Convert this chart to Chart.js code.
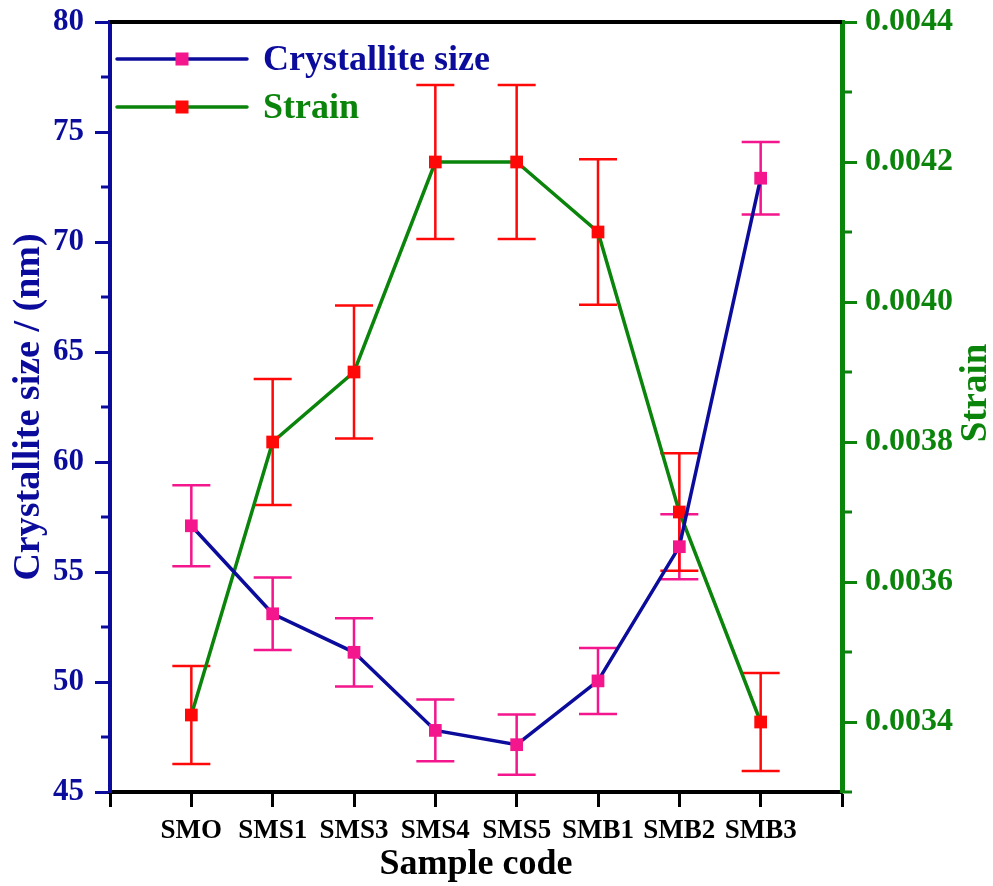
<!DOCTYPE html>
<html>
<head>
<meta charset="utf-8">
<script src="https://cdn.jsdelivr.net/npm/chart.js@4.4.1/dist/chart.umd.min.js"></script>
<style>
  html, body { margin: 0; padding: 0; background: #fff; }
</style>
</head>
<body>
<canvas id="chart" width="993" height="886"></canvas>
<script>
const categories = ['SMO', 'SMS1', 'SMS3', 'SMS4', 'SMS5', 'SMB1', 'SMB2', 'SMB3']
const crystalliteSize = [57.1, 53.1, 51.35, 47.8, 47.15, 50.05, 56.15, 72.9]
const sizeError = [1.84, 1.65, 1.55, 1.4, 1.37, 1.5, 1.48, 1.65]
const strain = [0.00341, 0.0038, 0.0039, 0.0042, 0.0042, 0.0041, 0.0037, 0.0034]
const strainError = [0.00007, 0.00009, 0.000095, 0.00011, 0.00011, 0.000104, 0.000084, 0.00007]

const sizeTicks = [45, 50, 55, 60, 65, 70, 75, 80]
const strainTicks = [0.0034, 0.0036, 0.0038, 0.0040, 0.0042, 0.0044]
const strainMin = 0.0033

const NAVY = '#0c0c9c'
const GREEN = '#0a840a'
const PINK = '#f3168c'
const RED = '#ff0808'
const FONT = "'Liberation Serif', 'Times New Roman', serif"

function toPoints(values) {
    return values.map((v, i) => ({ x: i + 1, y: v }))
}

// small ticks half way between the labelled ones
function minorValues(scale) {
    const t = scale.ticks.map(k => k.value)
    const half = (t[1] - t[0]) / 2
    const out = []
    t.forEach(v => {
        [v - half, v + half].forEach(m => {
            const inside = m >= scale.min - half / 100 && m <= scale.max + half / 100
            if (inside && !out.some(o => Math.abs(o - m) < half / 10)) out.push(m)
        })
    })
    return out
}

function fixVertical(width) {
    return s => {
        s.width = width
        s.paddingTop = 0
        s.paddingBottom = 0
    }
}

const extras = {
    id: 'extras',
    beforeDatasetsDraw(chart) {
        const ctx = chart.ctx
        const xs = chart.scales.x
        chart.data.datasets.forEach(ds => {
            const ys = chart.scales[ds.yAxisID]
            ctx.save()
            ctx.strokeStyle = ds.errorColor
            ctx.lineWidth = 2.5
            ds.data.forEach((p, i) => {
                const x = xs.getPixelForValue(p.x)
                const top = ys.getPixelForValue(p.y + ds.errors[i])
                const bottom = ys.getPixelForValue(p.y - ds.errors[i])
                ctx.beginPath()
                ctx.moveTo(x, top); ctx.lineTo(x, bottom)
                ctx.moveTo(x - 19, top); ctx.lineTo(x + 19, top)
                ctx.moveTo(x - 19, bottom); ctx.lineTo(x + 19, bottom)
                ctx.stroke()
            })
            ctx.restore()
        })
    },
    afterDraw(chart) {
        const ctx = chart.ctx
        const area = chart.chartArea
        ctx.save()

        // top frame line
        ctx.strokeStyle = '#000'
        ctx.lineWidth = 4
        ctx.beginPath()
        ctx.moveTo(area.left, area.top)
        ctx.lineTo(area.right, area.top)
        ctx.stroke()

        // minor ticks
        const left = chart.scales.y
        const right = chart.scales.y1
        ctx.lineWidth = 3
        ctx.strokeStyle = NAVY
        minorValues(left).forEach(v => {
            const y = left.getPixelForValue(v)
            ctx.beginPath(); ctx.moveTo(area.left, y); ctx.lineTo(area.left - 9, y); ctx.stroke()
        })
        ctx.strokeStyle = GREEN
        minorValues(right).forEach(v => {
            const y = right.getPixelForValue(v)
            ctx.beginPath(); ctx.moveTo(area.right, y); ctx.lineTo(area.right + 10, y); ctx.stroke()
        })

        // right axis title, reading upwards like the left one
        ctx.fillStyle = GREEN
        ctx.font = 'bold 37px ' + FONT
        ctx.textAlign = 'center'
        ctx.textBaseline = 'middle'
        ctx.translate(right.right - 17, (area.top + area.bottom) / 2 - 14)
        ctx.rotate(-Math.PI / 2)
        ctx.fillText('Strain', 0, 0)
        ctx.restore()

        // legend
        ctx.save()
        ctx.font = 'bold 36px ' + FONT
        ctx.textBaseline = 'middle'
        ctx.textAlign = 'left'
        chart.data.datasets.forEach((ds, i) => {
            const y = area.top + 37 + i * 48
            const x0 = area.left + 7
            ctx.strokeStyle = ds.borderColor
            ctx.lineWidth = 3.5
            ctx.lineCap = 'round'
            ctx.beginPath(); ctx.moveTo(x0, y); ctx.lineTo(x0 + 130, y); ctx.stroke()
            ctx.fillStyle = ds.pointBackgroundColor
            ctx.fillRect(x0 + 65 - 6.5, y - 6.5, 13, 13)
            ctx.fillStyle = ds.borderColor
            ctx.fillText(ds.label, x0 + 146, y + 2)
        })
        ctx.restore()
    }
}

const chart = new Chart(document.getElementById('chart'), {
    type: 'line',
    data: {
        datasets: [
            {
                label: 'Crystallite size',
                data: toPoints(crystalliteSize),
                errors: sizeError,
                errorColor: PINK,
                yAxisID: 'y',
                borderColor: NAVY,
                borderWidth: 3.5,
                pointStyle: 'rect',
                pointRadius: 9,
                pointBackgroundColor: PINK,
                pointBorderWidth: 0,
                tension: 0
            },
            {
                label: 'Strain',
                data: toPoints(strain),
                errors: strainError,
                errorColor: RED,
                yAxisID: 'y1',
                borderColor: GREEN,
                borderWidth: 3.5,
                pointStyle: 'rect',
                pointRadius: 9,
                pointBackgroundColor: RED,
                pointBorderWidth: 0,
                tension: 0
            }
        ]
    },
    options: {
        responsive: false,
        devicePixelRatio: 1,
        animation: false,
        layout: { padding: { top: 22 } },
        plugins: {
            legend: { display: false },
            tooltip: { enabled: false }
        },
        scales: {
            x: {
                type: 'linear',
                min: 0,
                max: 9,
                afterFit: s => { s.height = 94; s.paddingLeft = 0; s.paddingRight = 0 },
                border: { color: '#000', width: 4 },
                grid: { drawOnChartArea: false, tickLength: 15, tickWidth: 3, tickColor: '#000' },
                ticks: {
                    stepSize: 1,
                    autoSkip: false,
                    maxRotation: 0,
                    padding: 8,
                    color: '#000',
                    font: { family: FONT, size: 27, weight: 'bold' },
                    callback: v => categories[v - 1] || ''
                },
                title: {
                    display: true,
                    text: 'Sample code',
                    color: '#000',
                    font: { family: FONT, size: 36, weight: 'bold' },
                    padding: { top: 0, bottom: 0 }
                }
            },
            y: {
                position: 'left',
                min: 45,
                max: 80,
                afterFit: fixVertical(110),
                afterBuildTicks: s => { s.ticks = sizeTicks.map(v => ({ value: v })) },
                border: { color: NAVY, width: 4 },
                grid: { drawOnChartArea: false, tickLength: 15, tickWidth: 3, tickColor: NAVY },
                ticks: {
                    padding: 11,
                    color: NAVY,
                    font: { family: FONT, size: 31, weight: 'bold' }
                },
                title: {
                    display: true,
                    text: 'Crystallite size / (nm)',
                    color: NAVY,
                    font: { family: FONT, size: 38, weight: 'bold' },
                    padding: { top: 6, bottom: 0 }
                }
            },
            y1: {
                position: 'right',
                min: strainMin,
                max: strainTicks[strainTicks.length - 1],
                afterFit: fixVertical(151),
                afterBuildTicks: s => { s.ticks = strainTicks.map(v => ({ value: v })) },
                border: { color: GREEN, width: 5 },
                grid: { drawOnChartArea: false, tickLength: 15, tickWidth: 3, tickColor: GREEN },
                ticks: {
                    padding: 8,
                    color: GREEN,
                    font: { family: FONT, size: 32, weight: 'bold' },
                    callback: v => v.toFixed(4)
                }
            }
        }
    },
    plugins: [extras]
})
</script>
</body>
</html>
